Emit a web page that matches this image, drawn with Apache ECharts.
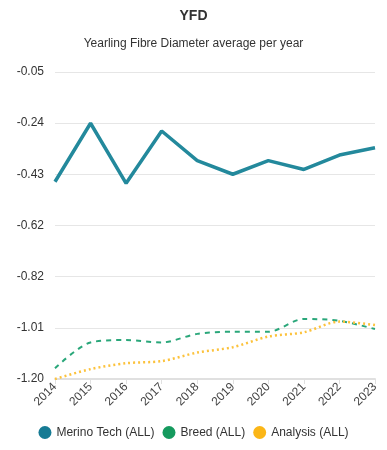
<!DOCTYPE html>
<html>
<head>
<meta charset="utf-8">
<script src="https://cdn.jsdelivr.net/npm/echarts@6/dist/echarts.min.js"></script>
<style>
html,body{margin:0;padding:0;background:#fff;}
#chart{width:387px;height:450px;}
</style>
</head>
<body>
<div id="chart"></div>
<script>
var years = ['2014','2015','2016','2017','2018','2019','2020','2021','2022','2023'];
var merinoTech = [-0.461, -0.242, -0.467, -0.271, -0.382, -0.433, -0.382, -0.415, -0.361, -0.334];
var breed = [-1.160, -1.063, -1.054, -1.063, -1.031, -1.023, -1.023, -0.975, -0.982, -1.013];
var analysis = [-1.200, -1.163, -1.141, -1.133, -1.101, -1.081, -1.041, -1.025, -0.985, -0.998];
var yMin = -1.2, yMax = -0.05, ySplits = 6;

var chart = echarts.init(document.getElementById('chart'));
chart.setOption({
  animation: false,
  title: [
    {text: 'YFD', left: 'center', top: 4, textStyle: {fontSize: 14, fontWeight: 'bold', color: '#333', fontFamily: 'Arial, Liberation Sans, sans-serif'}},
    {text: 'Yearling Fibre Diameter average per year', left: 'center', top: 33, textStyle: {fontSize: 12, fontWeight: 'normal', color: '#333', fontFamily: 'Arial, Liberation Sans, sans-serif'}}
  ],
  legend: {
    bottom: 6, left: 'center', icon: 'circle', itemWidth: 13, itemHeight: 13, itemGap: 8,
    textStyle: {fontSize: 12, color: '#333', fontFamily: 'Arial, Liberation Sans, sans-serif'}
  },
  grid: {left: 55, right: 12, top: 72, bottom: 71},
  xAxis: {
    type: 'category', data: years, boundaryGap: false,
    axisLine: {lineStyle: {color: '#e0e0e0', width: 2}},
    axisTick: {show: true, length: 5, lineStyle: {color: '#e0e0e0'}},
    axisLabel: {rotate: 45, fontSize: 12, color: '#444', margin: 6, fontFamily: 'Arial, Liberation Sans, sans-serif'}
  },
  yAxis: {
    type: 'value', min: yMin, max: yMax, interval: (yMax - yMin) / ySplits,
    axisLine: {show: false}, axisTick: {show: false},
    splitLine: {lineStyle: {color: '#e6e6e6', width: 1}},
    axisLabel: {
      fontSize: 12, color: '#333', margin: 11, fontFamily: 'Arial, Liberation Sans, sans-serif',
      formatter: function (v) { return (Math.round(v * 100) / 100).toFixed(2); }
    }
  },
  series: [
    {name: 'Merino Tech (ALL)', type: 'line', data: merinoTech, showSymbol: false,
     itemStyle: {color: '#167b94'}, lineStyle: {color: '#23899c', width: 3.5}, z: 3},
    {name: 'Breed (ALL)', type: 'line', data: breed, showSymbol: false, smooth: 0.3,
     itemStyle: {color: '#159a5e'}, lineStyle: {color: '#2aa77a', width: 2, type: [5, 5]}, z: 2},
    {name: 'Analysis (ALL)', type: 'line', data: analysis, showSymbol: false, smooth: 0.3,
     itemStyle: {color: '#fbb617'}, lineStyle: {color: '#fcc23c', width: 2.5, type: [2, 3]}, z: 2}
  ]
});
</script>
</body>
</html>
